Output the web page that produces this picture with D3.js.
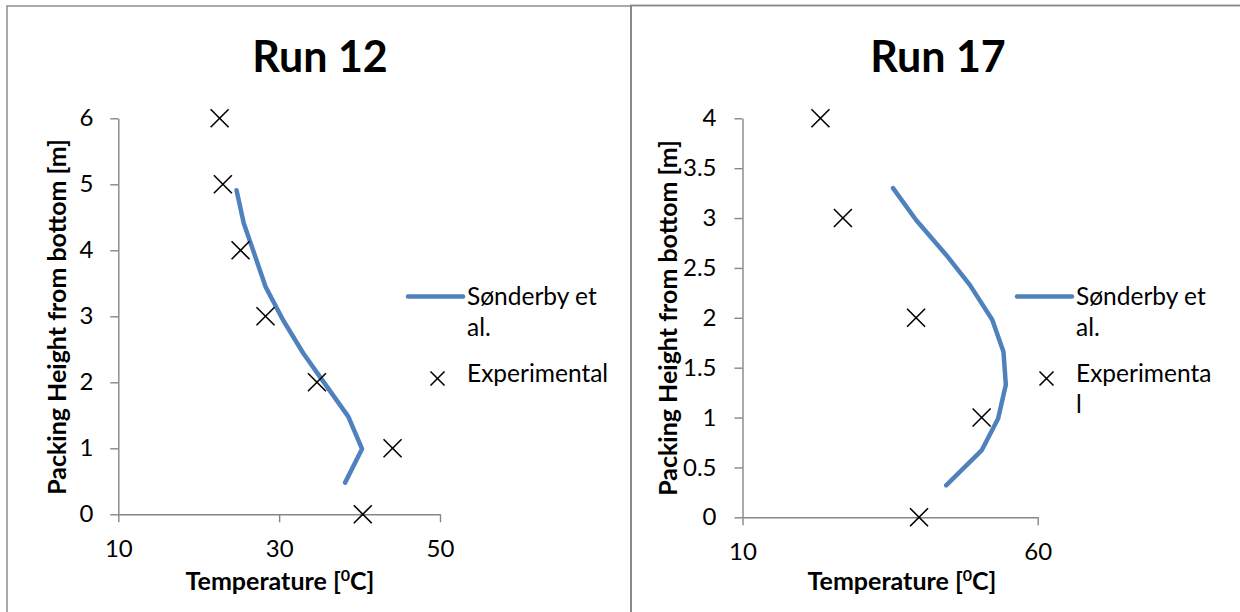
<!DOCTYPE html>
<html lang="en">
<head>
  <meta charset="UTF-8">
  <title>Run 12 / Run 17 temperature profiles</title>
  <script src="https://d3js.org/d3.v7.min.js"></script>
  <style>
    body {
      margin: 0;
      background: #fff;
      font-family: Lato, "Open Sans", sans-serif;
    }
    .panel {
      fill: none;
      stroke: #868686;
      stroke-width: 1.4;
    }
    .axis path, .axis line {
      stroke: #868686;
      stroke-width: 1.4;
    }
    .axis text {
      font-family: Lato, sans-serif;
      font-size: 24px;
      fill: #000;
    }
    .title {
      font-size: 43px;
      font-weight: bold;
    }
    .axis-title {
      font-size: 25px;
      font-weight: bold;
    }
    .model {
      fill: none;
      stroke: #4f81bd;
      stroke-width: 4.5;
      stroke-linecap: round;
      stroke-linejoin: round;
    }
    .cross {
      stroke: #000;
      stroke-width: 1.6;
    }
    .legend text {
      font-size: 24.5px;
    }
  </style>
</head>
<body>
  <svg width="1240" height="612"></svg>
  <script>
    // Run 12 - Sønderby et al. model
    const run12ModelHeight = [4.91, 4.41, 3.95, 3.45, 2.94, 2.44, 2.01, 1.48, 0.99, 0.48];
    const run12ModelTemp   = [24.7, 25.6, 26.9, 28.3, 30.5, 33.0, 35.5, 38.6, 40.3, 38.2];
    // Run 12 - experimental
    const run12ExpHeight = [6, 5, 4, 3, 2, 1, 0];
    const run12ExpTemp   = [22.6, 23.0, 25.2, 28.3, 34.7, 44.1, 40.4];

    // Run 17 - Sønderby et al. model
    const run17ModelHeight = [3.30, 2.98, 2.63, 2.33, 1.98, 1.66, 1.33, 0.99, 0.67, 0.32];
    const run17ModelTemp   = [35.5, 39.4, 44.5, 48.5, 52.3, 54.2, 54.6, 53.3, 50.5, 44.5];
    // Run 17 - experimental
    const run17ExpHeight = [4, 3, 2, 1, 0];
    const run17ExpTemp   = [23.2, 27.0, 39.4, 50.5, 39.9];

    const run12YTicks = [0, 1, 2, 3, 4, 5, 6];
    const run12XTicks = [10, 30, 50];
    const run17YTicks = [0, 0.5, 1, 1.5, 2, 2.5, 3, 3.5, 4];
    const run17XTicks = [10, 60];

    const legendNames = [["Sønderby et", "al."], ["Experimental"]];
    const legendNames17 = [["Sønderby et", "al."], ["Experimenta", "l"]];

    const svg = d3.select("svg");

    // chart borders
    svg.append("rect").attr("class", "panel")
      .attr("x", 7).attr("y", 6).attr("width", 624).attr("height", 620);
    svg.append("rect").attr("class", "panel")
      .attr("x", 631).attr("y", 5.5).attr("width", 620).attr("height", 620)
      .style("stroke-width", 1.8);

    function cross(g, cx, cy, r) {
      g.append("line").attr("class", "cross")
        .attr("x1", cx - r).attr("y1", cy - r).attr("x2", cx + r).attr("y2", cy + r);
      g.append("line").attr("class", "cross")
        .attr("x1", cx - r).attr("y1", cy + r).attr("x2", cx + r).attr("y2", cy - r);
    }

    function drawChart(opt) {
      const g = svg.append("g");
      const x = d3.scaleLinear().domain(opt.xDomain).range(opt.xRange);
      const y = d3.scaleLinear().domain(opt.yDomain).range(opt.yRange);

      g.append("g").attr("class", "axis")
        .attr("transform", `translate(0,${opt.yRange[0]})`)
        .call(d3.axisBottom(x).tickValues(opt.xTicks).tickSize(8).tickSizeOuter(0)
          .tickFormat(d => String(d)))
        .selectAll("text").attr("y", opt.xLabBase - opt.yRange[0]).attr("dy", 0);

      g.append("g").attr("class", "axis")
        .attr("transform", `translate(${opt.xRange[0]},0)`)
        .call(d3.axisLeft(y).tickValues(opt.yTicks).tickSize(8).tickSizeOuter(0)
          .tickPadding(opt.yPad).tickFormat(d => String(d)));

      g.append("text").attr("class", "title")
        .attr("x", opt.titleX).attr("y", 72)
        .attr("text-anchor", "middle")
        .text(opt.title);

      const xt = g.append("text").attr("class", "axis-title")
        .attr("x", opt.xTitleX).attr("y", 590)
        .attr("text-anchor", "middle");
      xt.append("tspan").text("Temperature [");
      xt.append("tspan").attr("font-size", "16px").attr("dy", -9).text("0");
      xt.append("tspan").attr("dy", 9).text("C]");

      g.append("text").attr("class", "axis-title")
        .attr("transform", `translate(${opt.yTitleX},${opt.yTitleY}) rotate(-90)`)
        .attr("text-anchor", "middle")
        .text("Packing Height from bottom [m]");

      const line = d3.line()
        .x(i => x(opt.modelTemp[i]))
        .y(i => y(opt.modelHeight[i]));
      g.append("path").attr("class", "model")
        .attr("d", line(d3.range(opt.modelTemp.length)));

      opt.expTemp.forEach((t, i) => cross(g, x(t), y(opt.expHeight[i]), 9));

      // legend
      const lg = g.append("g").attr("class", "legend");
      lg.append("line").attr("class", "model")
        .attr("x1", opt.legX).attr("x2", opt.legX + 55)
        .attr("y1", 296.5).attr("y2", 296.5);
      cross(lg, opt.legX + 29.5, 378.5, 7);
      opt.legendNames.forEach((lines, k) => {
        lines.forEach((s, j) => {
          lg.append("text")
            .attr("x", opt.legX + 59)
            .attr("y", (k === 0 ? 305 : 382) + j * 31)
            .text(s);
        });
      });
    }

    drawChart({
      title: "Run 12", titleX: 320,
      xDomain: [10, 50], xRange: [118.3, 440],
      yDomain: [0, 6], yRange: [514.3, 118.3],
      xTicks: run12XTicks, yTicks: run12YTicks, yPad: 17, xLabBase: 557,
      xTitleX: 280, yTitleX: 65.5, yTitleY: 317,
      modelTemp: run12ModelTemp, modelHeight: run12ModelHeight,
      expTemp: run12ExpTemp, expHeight: run12ExpHeight,
      legX: 408, legendNames: legendNames
    });

    drawChart({
      title: "Run 17", titleX: 938,
      xDomain: [10, 60], xRange: [742.5, 1037.7],
      yDomain: [0, 4], yRange: [517.3, 118.3],
      xTicks: run17XTicks, yTicks: run17YTicks, yPad: 18, xLabBase: 560,
      xTitleX: 902, yTitleX: 677, yTitleY: 318,
      modelTemp: run17ModelTemp, modelHeight: run17ModelHeight,
      expTemp: run17ExpTemp, expHeight: run17ExpHeight,
      legX: 1017, legendNames: legendNames17
    });
  </script>
</body>
</html>
